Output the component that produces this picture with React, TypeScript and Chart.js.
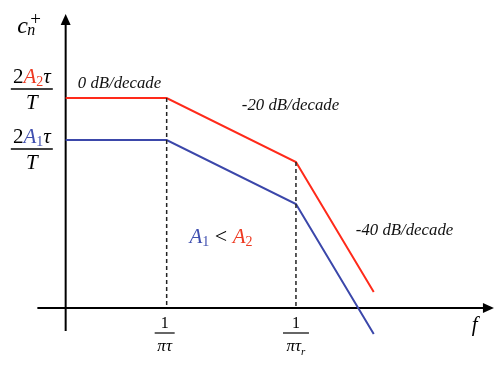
import React, { useEffect, useRef } from "react";
import { Chart, registerables } from "chart.js";

Chart.register(...registerables);

// Frequency positions (arbitrary log-like units): axis origin, 1/(πτ), 1/(πτ_r), end
const freqPoints = [0, 1, 2.28, 3.05];
// Spectrum envelope levels (arbitrary dB-like units)
const redLevels = [21, 21, 14.6, 1.6];
const blueLevels = [16.8, 16.8, 10.4, -2.6];
// Corner frequencies (indices into freqPoints)
const cornerIdx = [1, 2];
const slopeLabels = ["0 dB/decade", "-20 dB/decade", "-40 dB/decade"];

const RED = "#ff2a1a";
const BLUE = "#3b47aa";
const RED_TXT = "#ee3a22";
const BLUE_TXT = "#4050b0";
const SERIF = '"Liberation Serif", "DejaVu Serif", serif';

type Run = { t: string; c?: string; it?: boolean; size: number; dy?: number; w?: number };

function drawRuns(ctx: CanvasRenderingContext2D, runs: Run[], cx: number, base: number, align: "center" | "left" = "center") {
  let total = 0;
  for (const r of runs) {
    ctx.font = `${r.it ? "italic " : ""}${r.w ?? 400} ${r.size}px ${SERIF}`;
    total += ctx.measureText(r.t).width;
  }
  let x = align === "center" ? cx - total / 2 : cx;
  ctx.textAlign = "left";
  ctx.textBaseline = "alphabetic";
  for (const r of runs) {
    ctx.font = `${r.it ? "italic " : ""}${r.w ?? 400} ${r.size}px ${SERIF}`;
    ctx.fillStyle = r.c ?? "#000";
    ctx.fillText(r.t, x, base + (r.dy ?? 0));
    x += ctx.measureText(r.t).width;
  }
  return total;
}

const annotationPlugin = {
  id: "bodeDecor",
  beforeDatasetsDraw(chart: any) {
    const ctx: CanvasRenderingContext2D = chart.ctx;
    const xs = chart.scales.x;
    const ys = chart.scales.y;
    const X = (v: number) => xs.getPixelForValue(v);
    const Y = (v: number) => ys.getPixelForValue(v);
    ctx.save();
    ctx.strokeStyle = "#000";
    ctx.fillStyle = "#000";
    ctx.lineWidth = 2;
    // y axis
    const x0 = X(0);
    const yTop = Y(29.4);
    ctx.beginPath();
    ctx.moveTo(x0, Y(-2.3));
    ctx.lineTo(x0, yTop + 8);
    ctx.stroke();
    ctx.beginPath();
    ctx.moveTo(x0, yTop);
    ctx.lineTo(x0 - 5, yTop + 11);
    ctx.lineTo(x0 + 5, yTop + 11);
    ctx.closePath();
    ctx.fill();
    // x axis
    const y0 = Y(0);
    const xEnd = X(4.24);
    ctx.beginPath();
    ctx.moveTo(X(-0.28), y0);
    ctx.lineTo(xEnd - 8, y0);
    ctx.stroke();
    ctx.beginPath();
    ctx.moveTo(xEnd, y0);
    ctx.lineTo(xEnd - 11, y0 - 5);
    ctx.lineTo(xEnd - 11, y0 + 5);
    ctx.closePath();
    ctx.fill();
    ctx.restore();
  },
  afterDraw(chart: any) {
    const ctx: CanvasRenderingContext2D = chart.ctx;
    const xs = chart.scales.x;
    const ys = chart.scales.y;
    const X = (v: number) => xs.getPixelForValue(v);
    const Y = (v: number) => ys.getPixelForValue(v);
    ctx.save();

    // y-axis title c_n^+
    const cx0 = X(-0.48);
    const cy0 = Y(27.5);
    ctx.font = `italic 400 24px ${SERIF}`;
    ctx.fillStyle = "#000";
    ctx.textAlign = "left";
    ctx.fillText("c", cx0, cy0);
    ctx.font = `italic 400 16px ${SERIF}`;
    ctx.fillText("n", cx0 + 10, cy0 + 2);
    ctx.font = `400 19px ${SERIF}`;
    ctx.fillText("+", cx0 + 13, cy0 - 8);

    // level fractions
    const fracX = X(-0.335);
    const drawLevel = (barY: number, color: string, idx: string) => {
      drawRuns(ctx, [
        { t: "2", size: 21 },
        { t: "A", c: color, it: true, size: 21 },
        { t: idx, c: color, size: 14, dy: 3 },
        { t: "τ", it: true, size: 21 },
      ], fracX, barY - 6);
      ctx.strokeStyle = "#000";
      ctx.lineWidth = 1.3;
      ctx.beginPath();
      ctx.moveTo(fracX - 21, barY);
      ctx.lineTo(fracX + 21, barY);
      ctx.stroke();
      drawRuns(ctx, [{ t: "T", it: true, size: 21 }], fracX, barY + 20);
    };
    drawLevel(Y(21.9), RED_TXT, "2");
    drawLevel(Y(15.9), BLUE_TXT, "1");

    // slope labels
    const slopePos = [
      [0.533, 22.0],
      [2.226, 19.8],
      [3.355, 7.3],
    ];
    slopeLabels.forEach((s, i) => {
      ctx.font = `italic 400 16.8px ${SERIF}`;
      ctx.fillStyle = "#111";
      ctx.textAlign = "center";
      ctx.fillText(s, X(slopePos[i][0]), Y(slopePos[i][1]));
    });

    // A1 < A2
    drawRuns(ctx, [
      { t: "A", c: BLUE_TXT, it: true, size: 21 },
      { t: "1", c: BLUE_TXT, size: 14, dy: 3 },
      { t: " < ", size: 22 },
      { t: "A", c: RED_TXT, it: true, size: 21 },
      { t: "2", c: RED_TXT, size: 14, dy: 3 },
    ], X(1.538), Y(6.5));

    // x tick fractions
    const tickSubs = ["", "r"];
    cornerIdx.forEach((ci, k) => {
      const cx = X(freqPoints[ci]) - (k === 0 ? 2 : 0);
      const barY = Y(-2.5);
      drawRuns(ctx, [{ t: "1", size: 16 }], cx, barY - 5);
      const half = k === 0 ? 10 : 13;
      ctx.strokeStyle = "#000";
      ctx.lineWidth = 1.2;
      ctx.beginPath();
      ctx.moveTo(cx - half, barY);
      ctx.lineTo(cx + half, barY);
      ctx.stroke();
      const runs: Run[] = [{ t: "πτ", it: true, size: 17 }];
      if (tickSubs[k]) runs.push({ t: tickSubs[k], it: true, size: 11, dy: 4 });
      drawRuns(ctx, runs, cx, barY + 18);
    });

    // f label
    ctx.font = `italic 400 21px ${SERIF}`;
    ctx.fillStyle = "#000";
    ctx.textAlign = "center";
    ctx.fillText("f", X(4.05), Y(-2.3));
    ctx.restore();
  },
};

export default function App() {
  const ref = useRef<HTMLCanvasElement | null>(null);
  useEffect(() => {
    if (!ref.current) return;
    const line = (vals: number[], color: string) => ({
      data: freqPoints.map((x, i) => ({ x, y: vals[i] })),
      borderColor: color,
      borderWidth: 2,
      pointRadius: 0,
      showLine: true,
      tension: 0,
    });
    const dashed = cornerIdx.map((ci) => ({
      data: [
        { x: freqPoints[ci], y: redLevels[ci] },
        { x: freqPoints[ci], y: 0 },
      ],
      borderColor: "#222",
      borderWidth: 1.5,
      borderDash: [4, 3],
      pointRadius: 0,
      showLine: true,
    }));
    const chart = new Chart(ref.current, {
      type: "scatter",
      data: { datasets: [...dashed, line(blueLevels, BLUE), line(redLevels, RED)] as any },
      options: {
        animation: false,
        responsive: false,
        layout: { padding: 0 },
        plugins: { legend: { display: false }, tooltip: { enabled: false } },
        scales: {
          x: { type: "linear", min: -0.65, max: 4.3, display: false },
          y: { type: "linear", min: -5.9, max: 30.8, display: false },
        },
      },
      plugins: [annotationPlugin],
    });
    return () => chart.destroy();
  }, []);
  return (
    <div style={{ position: "absolute", left: 0, top: 0, width: 500, height: 367, background: "#fff" }}>
      <canvas ref={ref} width={500} height={367} />
    </div>
  );
}
